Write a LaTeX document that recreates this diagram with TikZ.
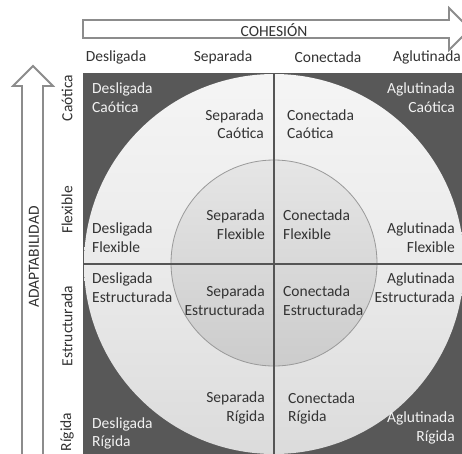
\documentclass[tikz,border=0pt]{standalone}
\usepackage{fontspec}
\setmainfont{Carlito}
\definecolor{darkbg}{HTML}{585858}
\definecolor{txt}{HTML}{333333}
\definecolor{wtxt}{HTML}{F2F2F2}
\definecolor{arrowline}{HTML}{8C8C8C}
\definecolor{crossline}{HTML}{555555}
\tikzset{
  lbl/.style={inner sep=0pt, text=txt, font=\fontsize{15.5}{18.5}\selectfont},
  qleft/.style={lbl, anchor=west, align=left},
  qright/.style={lbl, anchor=east, align=right},
  wq/.style={text=wtxt},
  bigarrow/.style={draw=arrowline, line width=1.8pt, fill=white, line join=miter},
  crossl/.style={draw=crossline, line width=2pt},
}
\begin{document}
\begin{tikzpicture}[x=1pt,y=-1pt]
\useasboundingbox (0,0) rectangle (462,453);
\clip (0,0) rectangle (462,453);
\fill[white] (0,0) rectangle (462,453);
% arrows
\draw[bigarrow] (83,20) -- (449,20) -- (449,8) -- (470,29) -- (449,50) -- (449,38) -- (83,38) -- cycle;
\draw[bigarrow] (22,460) -- (22,86) -- (13,86) -- (33,66) -- (53,86) -- (43,86) -- (43,460) -- cycle;
\node[lbl] (coh) at (274,30) {COHESIÓN};
\node[lbl, rotate=90] (adap) at (34,257) {ADAPTABILIDAD};
% column labels
\node[lbl] (c1) at (116,57) {Desligada};
\node[lbl] (c2) at (223,57) {Separada};
\node[lbl] (c3) at (328,57) {Conectada};
\node[lbl] (c4) at (427,57) {Aglutinada};
% row labels
\node[lbl, rotate=90] (r1) at (67,98) {Caótica};
\node[lbl, rotate=90] (r2) at (67,210) {Flexible};
\node[lbl, rotate=90] (r3) at (67,326) {Estructurada};
\node[lbl, rotate=90] (r4) at (67,432) {Rígida};
% background square
\fill[darkbg] (83,73) rectangle (470,460);
% outer circle
\shade[top color=white!96!black, bottom color=white!86!black, middle color=white!92!black] (274,264) circle (190);
% inner circle
\shade[top color=white!90!black, bottom color=white!80!black] (274,263) circle (103);
\draw[draw=black!40, line width=0.8pt] (274,263) circle (103);
% cross
\coordinate (vt) at (274,73);
\coordinate (vb) at (274,460);
\coordinate (hl) at (83,264);
\coordinate (hr) at (470,264);
\draw[crossl] (vt) -- (vb);
\draw[crossl] (hl) -- (hr);
% quadrant texts
\node[qleft, wq] (dc) at (92,97.5) {Desligada\\Caótica};
\node[qright, wq] (ac) at (455,97.5) {Aglutinada\\Caótica};
\node[qright] (sc) at (264,124) {Separada\\Caótica};
\node[qleft] (cc) at (287,124) {Conectada\\Caótica};
\node[qleft] (df) at (92,237.5) {Desligada\\Flexible};
\node[qright] (sf) at (265,224.5) {Separada\\Flexible};
\node[qleft] (cf) at (283,224.5) {Conectada\\Flexible};
\node[qright] (af) at (455,237.5) {Aglutinada\\Flexible};
\node[qleft] (de) at (92,287.5) {Desligada\\Estructurada};
\node[qright] (se) at (265,300.5) {Separada\\Estructurada};
\node[qleft] (ce) at (283,300.5) {Conectada\\Estructurada};
\node[qright] (ae) at (455,287.5) {Aglutinada\\Estructurada};
\node[qright] (sr) at (265,408) {Separada\\Rígida};
\node[qleft] (cr) at (288,408.5) {Conectada\\Rígida};
\node[qleft, wq] (dr) at (92,433.5) {Desligada\\Rígida};
\node[qright, wq] (ar) at (455,428) {Aglutinada\\Rígida};
\end{tikzpicture}
\end{document}
